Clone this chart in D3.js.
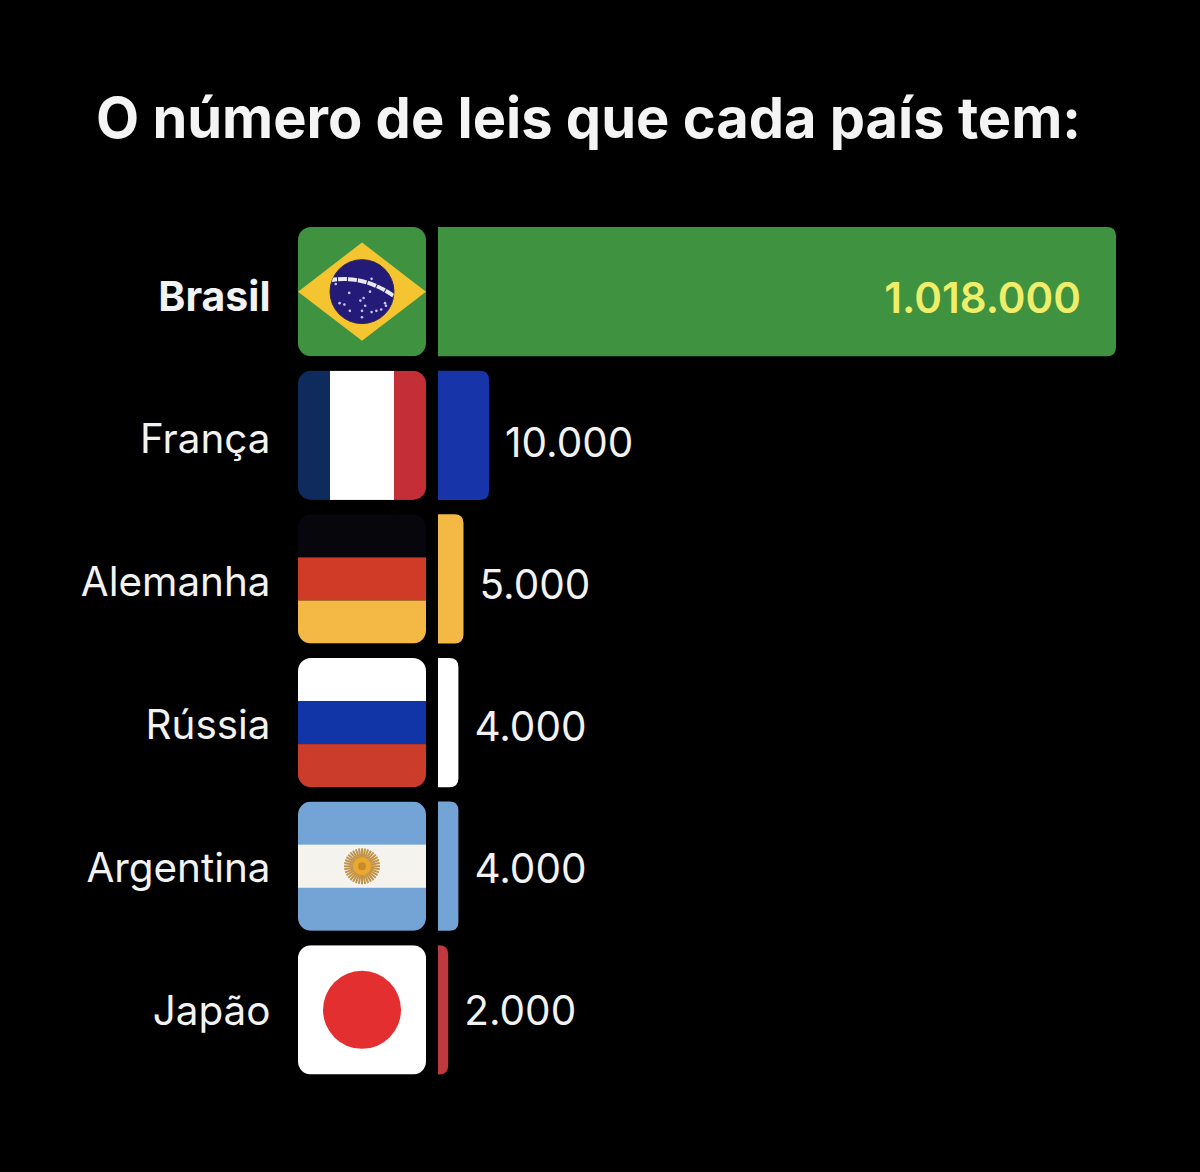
<!DOCTYPE html>
<html><head><meta charset="utf-8">
<script src="https://cdn.jsdelivr.net/npm/d3@7/dist/d3.min.js"></script>
<style>html,body{margin:0;padding:0;background:#000}svg{display:block}text{font-family:Inter,"Noto Sans",sans-serif}</style>
</head><body><div id="c"></div>
<script>
const titleText = "O número de leis que cada país tem:";
const countries = ["Brasil","França","Alemanha","Rússia","Argentina","Japão"];
const laws = [1018000,10000,5000,4000,4000,2000];
const valueLabels = ["1.018.000","10.000","5.000","4.000","4.000","2.000"];
const barColors = ["#3f923f","#1734a8","#f3b944","#ffffff","#74a3d6","#bf3a40"];
const flagKeys = ["br","fr","de","ru","ar","jp"];

const W=1200,H=1172;
const svg=d3.select("#c").append("svg").attr("width",W).attr("height",H);
svg.append("rect").attr("width",W).attr("height",H).attr("fill","#000");

svg.append("text").attr("x",588.5).attr("y",137.5).attr("text-anchor","middle")
  .attr("font-size",56).attr("font-weight",700).attr("fill","#f4f4f4").text(titleText);

const y=d3.scaleBand().domain(countries).range([227,1074.5]).paddingInner(0.1);
// The picture's bar axis is not linear: Brasil's bar is cut to fit.
const x=d3.scaleLinear().domain([0,10000,1018000]).range([438,489,1116]);
const flagX=d3.scaleLinear().domain([0,1]).range([298,426]);
// Text rows in the picture run on a slightly different pitch than the bars.
const labelY=d3.scalePoint().domain(countries).range([296,1010]);
const valueY=d3.scalePoint().domain(countries).range([301,1010]);
const bw=y.bandwidth();
const defs=svg.append("defs");

const rows=svg.selectAll("g.row").data(countries.map((c,i)=>({c,i,v:laws[i],label:valueLabels[i],color:barColors[i],flag:flagKeys[i]})))
 .join("g").attr("class","row");

// country labels
rows.append("text").attr("x",270.5).attr("y",d=>labelY(d.c)).attr("dy","0.36em")
  .attr("text-anchor","end").attr("font-size",d=>d.i==0?41:40.4)
  .attr("font-weight",d=>d.i==0?700:400).attr("fill","#f2f2f2").text(d=>d.c);

// bars, square at the axis and rounded at the tip
rows.append("path").attr("fill",d=>d.color).attr("d",d=>{
  const w=x(d.v)-x(0), r=Math.min(9,w), p=d3.path(), t=y(d.c);
  p.moveTo(x(0),t);p.lineTo(x(0)+w-r,t);p.quadraticCurveTo(x(0)+w,t,x(0)+w,t+r);
  p.lineTo(x(0)+w,t+bw-r);p.quadraticCurveTo(x(0)+w,t+bw,x(0)+w-r,t+bw);p.lineTo(x(0),t+bw);p.closePath();
  return p.toString();});

// value labels
rows.append("text").attr("y",d=>valueY(d.c)-(d.i==0?3:0)).attr("dy","0.36em")
  .attr("x",d=>d.i==0?x(d.v)-35:x(d.v)+16)
  .attr("text-anchor",d=>d.i==0?"end":"start")
  .attr("font-size",d=>d.i==0?42:40.5).attr("font-weight",d=>d.i==0?600:400)
  .attr("fill",d=>d.i==0?"#eeee6a":"#f2f2f2").text(d=>d.label);

// flags
const fw=flagX(1)-flagX(0);
rows.each(function(d){
  const id="clip-"+d.flag;
  const top=y(d.c);
  defs.append("clipPath").attr("id",id).append("rect").attr("x",flagX(0)).attr("y",top).attr("width",fw).attr("height",bw).attr("rx",13);
  const g=d3.select(this).append("g").attr("clip-path",`url(#${id})`);
  const R=(a,b,c,e,f)=>g.append("rect").attr("x",flagX(a)).attr("y",top+c*bw).attr("width",(b-a)*fw).attr("height",(e-c)*bw).attr("fill",f);
  if(d.flag==="br"){
    R(0,1,0,1,"#3f923f");
    g.append("polygon").attr("points",[[0,.5],[.5,.12],[1,.5],[.5,.88]].map(p=>[flagX(p[0]),top+p[1]*bw].join(",")).join(" ")).attr("fill","#f4c531");
    const cx=flagX(.5),cy=top+bw*.5,r=32;
    defs.append("clipPath").attr("id","globe").append("circle").attr("cx",cx).attr("cy",cy).attr("r",r);
    g.append("circle").attr("cx",cx).attr("cy",cy).attr("r",r).attr("fill","#241a78").attr("stroke","#3a2a50").attr("stroke-width",1);
    g.append("path").attr("clip-path","url(#globe)").attr("d",`M${cx-34},${cy-11} Q${cx+2},${cy-18} ${cx+34},${cy+6}`).attr("fill","none").attr("stroke","#e8e8ee").attr("stroke-width",4).attr("stroke-dasharray","9 1");
    const stars=[[-.82,-.3],[-.4,.05],[-.7,.45],[-.55,.5],[-.38,.75],[-.05,.35],[.05,.25],[.1,.55],[.0,.75],[.3,.8],[.45,.75],[.6,.7],[.75,.55],[.72,.45],[.0,1.0],[.3,-.5],[.25,.0]];
    g.selectAll("circle.s").data(stars).join("circle").attr("class","s").attr("cx",s=>cx+s[0]*r).attr("cy",s=>cy+s[1]*r*.8).attr("r",1.3).attr("fill","#c9c8ee");
  } else if(d.flag==="fr"){
    R(0,.25,0,1,"#0f2a5c");R(.25,.75,0,1,"#ffffff");R(.75,1,0,1,"#c42f37");
  } else if(d.flag==="de"){
    R(0,1,0,1/3,"#06060c");R(0,1,1/3,2/3,"#cf3b26");R(0,1,2/3,1,"#f3b944");
  } else if(d.flag==="ru"){
    R(0,1,0,1/3,"#ffffff");R(0,1,1/3,2/3,"#1134a6");R(0,1,2/3,1,"#cb3c2b");
  } else if(d.flag==="ar"){
    R(0,1,0,1,"#74a3d6");R(0,1,1/3,2/3,"#f5f3ee");
    const cx=flagX(.5),cy=top+bw/2;
    g.selectAll("line.ray").data(d3.range(36)).join("line").attr("class","ray")
      .attr("x1",cx).attr("y1",cy)
      .attr("x2",k=>cx+18*Math.cos(k*Math.PI/18)).attr("y2",k=>cy+18*Math.sin(k*Math.PI/18))
      .attr("stroke","#c2944a").attr("stroke-width",2);
    g.append("circle").attr("cx",cx).attr("cy",cy).attr("r",9).attr("fill","#e9a82e");
    g.append("circle").attr("cx",cx).attr("cy",cy).attr("r",4).attr("fill","#c98a2a");
  } else {
    R(0,1,0,1,"#ffffff");
    g.append("circle").attr("cx",flagX(.5)).attr("cy",top+bw/2).attr("r",39).attr("fill","#e32f30");
  }
});
</script></body></html>
